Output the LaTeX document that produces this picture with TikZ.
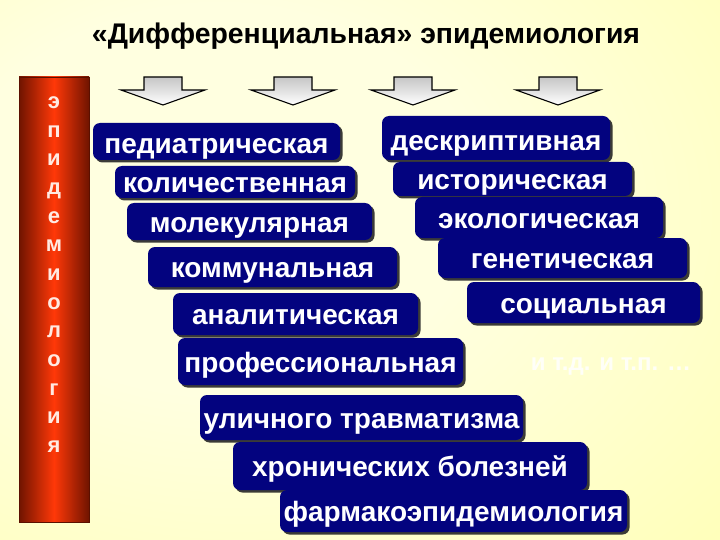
\documentclass[tikz,border=0pt]{standalone}
\usepackage{fontspec}
\setmainfont{Liberation Sans}
\usetikzlibrary{shadows}
\definecolor{bgin}{HTML}{FFFFE0}
\definecolor{bgmid}{HTML}{FFFFB8}
\definecolor{bgout}{HTML}{FFFF50}
\definecolor{navy}{HTML}{03037F}
\definecolor{bardark}{HTML}{701400}
\definecolor{barmid}{HTML}{FF3808}
\definecolor{barletter}{HTML}{FFEAE2}
\pgfdeclareradialshading{bgshade}{\pgfpoint{-12bp}{8bp}}{color(0bp)=(bgin); color(18bp)=(bgin); color(45bp)=(bgmid); color(75bp)=(bgout); color(100bp)=(bgout)}
\tikzset{
  box/.style={rounded corners=7pt, fill=navy, text=white, inner sep=0pt,
    font=\fontsize{28}{30}\selectfont\bfseries, text height=21.5pt, text depth=0pt,
    drop shadow={shadow xshift=2.5pt, shadow yshift=-2.5pt, fill=black!85, opacity=0.9}},
  lowtext/.style={text height=24.5pt},
  barletterstyle/.style={text=barletter, font=\fontsize{22}{24}\selectfont\bfseries, inner sep=0pt, text height=11pt, text depth=0pt},
  downarr/.pic={
    \draw[line width=1.1pt, top color=gray!45, bottom color=white, line join=miter]
      (-19,-28) -- (19,-28) -- (19,-15) -- (42,-15) -- (0,0) -- (-42,-15) -- (-19,-15) -- cycle;
  }
}
\begin{document}
\begin{tikzpicture}[x=1pt,y=-1pt]
\useasboundingbox (0,0) rectangle (720,540);
\fill[shading=bgshade] (0,0) rectangle (720,540);

% title
\node[font=\fontsize{28.4}{30}\selectfont\bfseries, text=black] (title) at (366,36) {«Дифференциальная» эпидемиология};

% left bar
\draw[draw=bardark!80!black, line width=0.6pt, left color=bardark, right color=bardark, middle color=barmid] (19,77) rectangle (89,522);
\foreach \l [count=\i from 0] in {э,п,и,д,е,м,и,о,л,о,г,и,я}
  \node[barletterstyle] (v\i) at (54,{103+\i*28.67}) {\l};

% arrows
\pic at (163,105) {downarr};
\pic at (293,105) {downarr};
\pic at (413,105) {downarr};
\pic at (558,105) {downarr};

% left column
\node[box, lowtext, minimum width=247pt, minimum height=37pt] (ped) at (216.5,141.5) {педиатрическая};
\node[box, minimum width=240pt, minimum height=32pt] (kol) at (235,182) {количественная};
\node[box, minimum width=245pt, minimum height=37pt] (mol) at (249.5,221.5) {молекулярная};
\node[box, minimum width=249pt, minimum height=40pt] (kom) at (272.5,267) {коммунальная};
\node[box, minimum width=245pt, minimum height=42pt] (ana) at (295.5,314) {аналитическая};
\node[box, minimum width=285pt, minimum height=47pt] (pro) at (320.5,361.5) {профессиональная};
\node[box, minimum width=323pt, minimum height=45pt] (uli) at (361.5,417.5) {уличного травматизма};
\node[box, minimum width=354pt, minimum height=48pt] (hro) at (410,466) {хронических болезней};
\node[box, minimum width=347pt, minimum height=42pt] (far) at (453.5,511) {фармакоэпидемиология};

% right column
\node[box, lowtext, minimum width=228pt, minimum height=44pt] (des) at (496,138) {дескриптивная};
\node[box, minimum width=239pt, minimum height=34pt] (ist) at (512.5,179) {историческая};
\node[box, minimum width=248pt, minimum height=41pt] (eko) at (539,217.5) {экологическая};
\node[box, minimum width=249pt, minimum height=40pt] (gen) at (562.5,258) {генетическая};
\node[box, minimum width=233pt, minimum height=41pt] (soc) at (583.5,302.5) {социальная};

% etc.
\node[text=white, opacity=0.85, font=\fontsize{24}{28}\selectfont\bfseries] (etc) at (611,367) {и т.д. и т.п. …};
\end{tikzpicture}
\end{document}
